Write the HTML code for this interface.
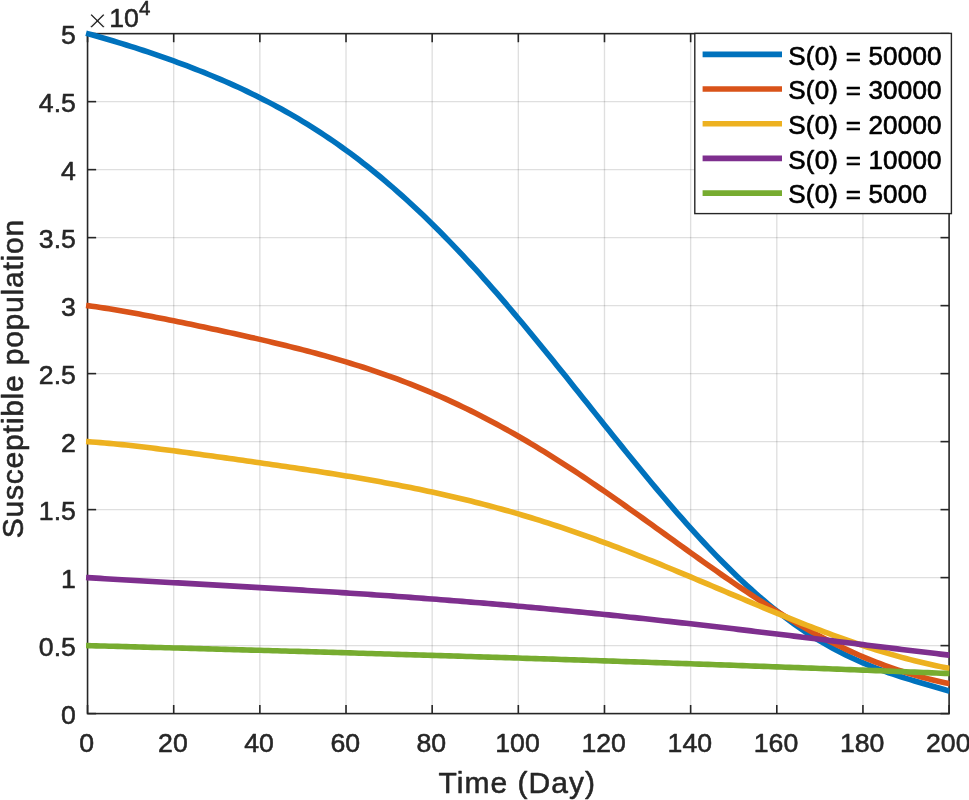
<!DOCTYPE html>
<html lang="en">
<head>
<meta charset="utf-8">
<title>Susceptible population vs Time (Day)</title>
<style>
html,body{margin:0;padding:0;background:#fff;}
body{width:969px;height:800px;overflow:hidden;}
svg{display:block;}
text{font-family:'Liberation Sans', Arial, Helvetica, sans-serif;fill:#262626;stroke:#262626;stroke-width:0.55px;stroke-linejoin:round;}
</style>
</head>
<body>
<svg width="969" height="800" viewBox="0 0 969 800">
<rect x="0" y="0" width="969" height="800" fill="#ffffff"/>

<g stroke="#262626" stroke-opacity="0.15" stroke-width="1.35" fill="none">
<line x1="173.70" y1="33.65" x2="173.70" y2="713.6"/>
<line x1="259.86" y1="33.65" x2="259.86" y2="713.6"/>
<line x1="346.02" y1="33.65" x2="346.02" y2="713.6"/>
<line x1="432.17" y1="33.65" x2="432.17" y2="713.6"/>
<line x1="518.32" y1="33.65" x2="518.32" y2="713.6"/>
<line x1="604.48" y1="33.65" x2="604.48" y2="713.6"/>
<line x1="690.63" y1="33.65" x2="690.63" y2="713.6"/>
<line x1="776.79" y1="33.65" x2="776.79" y2="713.6"/>
<line x1="862.94" y1="33.65" x2="862.94" y2="713.6"/>
<line x1="87.55" y1="645.61" x2="949.1" y2="645.61"/>
<line x1="87.55" y1="577.61" x2="949.1" y2="577.61"/>
<line x1="87.55" y1="509.62" x2="949.1" y2="509.62"/>
<line x1="87.55" y1="441.62" x2="949.1" y2="441.62"/>
<line x1="87.55" y1="373.62" x2="949.1" y2="373.62"/>
<line x1="87.55" y1="305.63" x2="949.1" y2="305.63"/>
<line x1="87.55" y1="237.63" x2="949.1" y2="237.63"/>
<line x1="87.55" y1="169.64" x2="949.1" y2="169.64"/>
<line x1="87.55" y1="101.64" x2="949.1" y2="101.64"/>
</g>
<g stroke="#262626" stroke-width="1.6" fill="none" stroke-linecap="butt">
<rect x="87.55" y="33.65" width="861.55" height="679.95"/>
<line x1="87.55" y1="713.6" x2="87.55" y2="705.0"/>
<line x1="87.55" y1="33.65" x2="87.55" y2="42.25"/>
<line x1="173.70" y1="713.6" x2="173.70" y2="705.0"/>
<line x1="173.70" y1="33.65" x2="173.70" y2="42.25"/>
<line x1="259.86" y1="713.6" x2="259.86" y2="705.0"/>
<line x1="259.86" y1="33.65" x2="259.86" y2="42.25"/>
<line x1="346.02" y1="713.6" x2="346.02" y2="705.0"/>
<line x1="346.02" y1="33.65" x2="346.02" y2="42.25"/>
<line x1="432.17" y1="713.6" x2="432.17" y2="705.0"/>
<line x1="432.17" y1="33.65" x2="432.17" y2="42.25"/>
<line x1="518.32" y1="713.6" x2="518.32" y2="705.0"/>
<line x1="518.32" y1="33.65" x2="518.32" y2="42.25"/>
<line x1="604.48" y1="713.6" x2="604.48" y2="705.0"/>
<line x1="604.48" y1="33.65" x2="604.48" y2="42.25"/>
<line x1="690.63" y1="713.6" x2="690.63" y2="705.0"/>
<line x1="690.63" y1="33.65" x2="690.63" y2="42.25"/>
<line x1="776.79" y1="713.6" x2="776.79" y2="705.0"/>
<line x1="776.79" y1="33.65" x2="776.79" y2="42.25"/>
<line x1="862.94" y1="713.6" x2="862.94" y2="705.0"/>
<line x1="862.94" y1="33.65" x2="862.94" y2="42.25"/>
<line x1="949.10" y1="713.6" x2="949.10" y2="705.0"/>
<line x1="949.10" y1="33.65" x2="949.10" y2="42.25"/>
<line x1="87.55" y1="713.60" x2="96.14999999999999" y2="713.60"/>
<line x1="949.1" y1="713.60" x2="940.5" y2="713.60"/>
<line x1="87.55" y1="645.61" x2="96.14999999999999" y2="645.61"/>
<line x1="949.1" y1="645.61" x2="940.5" y2="645.61"/>
<line x1="87.55" y1="577.61" x2="96.14999999999999" y2="577.61"/>
<line x1="949.1" y1="577.61" x2="940.5" y2="577.61"/>
<line x1="87.55" y1="509.62" x2="96.14999999999999" y2="509.62"/>
<line x1="949.1" y1="509.62" x2="940.5" y2="509.62"/>
<line x1="87.55" y1="441.62" x2="96.14999999999999" y2="441.62"/>
<line x1="949.1" y1="441.62" x2="940.5" y2="441.62"/>
<line x1="87.55" y1="373.62" x2="96.14999999999999" y2="373.62"/>
<line x1="949.1" y1="373.62" x2="940.5" y2="373.62"/>
<line x1="87.55" y1="305.63" x2="96.14999999999999" y2="305.63"/>
<line x1="949.1" y1="305.63" x2="940.5" y2="305.63"/>
<line x1="87.55" y1="237.63" x2="96.14999999999999" y2="237.63"/>
<line x1="949.1" y1="237.63" x2="940.5" y2="237.63"/>
<line x1="87.55" y1="169.64" x2="96.14999999999999" y2="169.64"/>
<line x1="949.1" y1="169.64" x2="940.5" y2="169.64"/>
<line x1="87.55" y1="101.64" x2="96.14999999999999" y2="101.64"/>
<line x1="949.1" y1="101.64" x2="940.5" y2="101.64"/>
<line x1="87.55" y1="33.65" x2="96.14999999999999" y2="33.65"/>
<line x1="949.1" y1="33.65" x2="940.5" y2="33.65"/>
</g>
<clipPath id="clip"><rect x="84.55" y="29.65" width="864.95" height="687.95"/></clipPath>
<g fill="none" stroke-width="5.6" stroke-linejoin="round" stroke-linecap="butt" clip-path="url(#clip)">
<polyline stroke="#0072BD" points="86.04,33.25 87.55,33.65 91.86,34.82 96.17,36.02 100.47,37.23 104.78,38.47 109.09,39.73 113.40,41.01 117.70,42.31 122.01,43.62 126.32,44.96 130.63,46.32 134.94,47.69 139.24,49.09 143.55,50.50 147.86,51.93 152.17,53.38 156.47,54.85 160.78,56.34 165.09,57.85 169.40,59.38 173.70,60.94 178.01,62.51 182.32,64.11 186.63,65.73 190.94,67.38 195.24,69.05 199.55,70.75 203.86,72.47 208.17,74.22 212.47,76.00 216.78,77.81 221.09,79.65 225.40,81.52 229.71,83.42 234.01,85.35 238.32,87.32 242.63,89.32 246.94,91.36 251.24,93.43 255.55,95.54 259.86,97.70 264.17,99.89 268.48,102.12 272.78,104.39 277.09,106.70 281.40,109.06 285.71,111.47 290.01,113.91 294.32,116.41 298.63,118.95 302.94,121.54 307.25,124.17 311.55,126.86 315.86,129.60 320.17,132.38 324.48,135.22 328.78,138.11 333.09,141.05 337.40,144.05 341.71,147.10 346.02,150.20 350.32,153.36 354.63,156.57 358.94,159.84 363.25,163.16 367.55,166.54 371.86,169.98 376.17,173.47 380.48,177.02 384.78,180.62 389.09,184.28 393.40,188.00 397.71,191.78 402.02,195.61 406.32,199.49 410.63,203.44 414.94,207.43 419.25,211.49 423.55,215.60 427.86,219.76 432.17,223.98 436.48,228.25 440.79,232.57 445.09,236.94 449.40,241.37 453.71,245.85 458.02,250.38 462.32,254.95 466.63,259.58 470.94,264.25 475.25,268.97 479.56,273.73 483.86,278.54 488.17,283.39 492.48,288.28 496.79,293.21 501.09,298.18 505.40,303.19 509.71,308.24 514.02,313.32 518.32,318.43 522.63,323.57 526.94,328.75 531.25,333.95 535.56,339.18 539.86,344.43 544.17,349.71 548.48,355.00 552.79,360.32 557.09,365.66 561.40,371.00 565.71,376.37 570.02,381.74 574.33,387.13 578.63,392.52 582.94,397.92 587.25,403.32 591.56,408.72 595.86,414.12 600.17,419.52 604.48,424.91 608.79,430.29 613.10,435.66 617.40,441.03 621.71,446.37 626.02,451.70 630.33,457.02 634.63,462.31 638.94,467.57 643.25,472.82 647.56,478.03 651.87,483.21 656.17,488.36 660.48,493.48 664.79,498.56 669.10,503.59 673.40,508.59 677.71,513.55 682.02,518.45 686.33,523.31 690.63,528.12 694.94,532.88 699.25,537.59 703.56,542.23 707.87,546.82 712.17,551.35 716.48,555.82 720.79,560.23 725.10,564.56 729.40,568.84 733.71,573.04 738.02,577.17 742.33,581.23 746.64,585.22 750.94,589.14 755.25,592.98 759.56,596.74 763.87,600.42 768.17,604.03 772.48,607.55 776.79,611.00 781.10,614.36 785.41,617.64 789.71,620.84 794.02,623.96 798.33,626.99 802.64,629.94 806.94,632.81 811.25,635.60 815.56,638.30 819.87,640.92 824.18,643.46 828.48,645.92 832.79,648.30 837.10,650.61 841.41,652.83 845.71,654.98 850.02,657.06 854.33,659.06 858.64,660.99 862.94,662.85 867.25,664.65 871.56,666.39 875.87,668.06 880.18,669.68 884.48,671.24 888.79,672.75 893.10,674.21 897.41,675.63 901.71,677.02 906.02,678.36 910.33,679.68 914.64,680.97 918.95,682.24 923.25,683.50 927.56,684.74 931.87,685.99 936.18,687.23 940.48,688.49 944.79,689.76 949.10,691.06 949.96,691.32"/>
<polyline stroke="#D95319" points="86.04,305.43 87.55,305.63 91.86,306.21 96.17,306.83 100.47,307.47 104.78,308.13 109.09,308.81 113.40,309.52 117.70,310.24 122.01,310.98 126.32,311.74 130.63,312.51 134.94,313.30 139.24,314.10 143.55,314.91 147.86,315.73 152.17,316.56 156.47,317.40 160.78,318.25 165.09,319.10 169.40,319.96 173.70,320.83 178.01,321.70 182.32,322.58 186.63,323.47 190.94,324.36 195.24,325.26 199.55,326.16 203.86,327.07 208.17,327.98 212.47,328.89 216.78,329.82 221.09,330.74 225.40,331.68 229.71,332.62 234.01,333.56 238.32,334.51 242.63,335.47 246.94,336.44 251.24,337.41 255.55,338.39 259.86,339.38 264.17,340.38 268.48,341.39 272.78,342.41 277.09,343.44 281.40,344.48 285.71,345.54 290.01,346.60 294.32,347.68 298.63,348.78 302.94,349.88 307.25,351.01 311.55,352.15 315.86,353.30 320.17,354.47 324.48,355.66 328.78,356.87 333.09,358.10 337.40,359.35 341.71,360.61 346.02,361.90 350.32,363.21 354.63,364.55 358.94,365.90 363.25,367.28 367.55,368.69 371.86,370.11 376.17,371.57 380.48,373.05 384.78,374.55 389.09,376.09 393.40,377.65 397.71,379.24 402.02,380.85 406.32,382.50 410.63,384.17 414.94,385.88 419.25,387.61 423.55,389.38 427.86,391.17 432.17,393.00 436.48,394.86 440.79,396.75 445.09,398.67 449.40,400.62 453.71,402.61 458.02,404.63 462.32,406.68 466.63,408.76 470.94,410.88 475.25,413.02 479.56,415.20 483.86,417.42 488.17,419.66 492.48,421.94 496.79,424.25 501.09,426.59 505.40,428.96 509.71,431.37 514.02,433.80 518.32,436.27 522.63,438.77 526.94,441.29 531.25,443.85 535.56,446.44 539.86,449.05 544.17,451.69 548.48,454.36 552.79,457.06 557.09,459.79 561.40,462.54 565.71,465.31 570.02,468.11 574.33,470.94 578.63,473.78 582.94,476.65 587.25,479.54 591.56,482.45 595.86,485.39 600.17,488.34 604.48,491.30 608.79,494.29 613.10,497.29 617.40,500.30 621.71,503.33 626.02,506.37 630.33,509.42 634.63,512.49 638.94,515.56 643.25,518.64 647.56,521.73 651.87,524.82 656.17,527.92 660.48,531.02 664.79,534.13 669.10,537.23 673.40,540.34 677.71,543.44 682.02,546.54 686.33,549.64 690.63,552.73 694.94,555.81 699.25,558.88 703.56,561.95 707.87,565.00 712.17,568.04 716.48,571.07 720.79,574.08 725.10,577.08 729.40,580.06 733.71,583.02 738.02,585.96 742.33,588.87 746.64,591.77 750.94,594.64 755.25,597.48 759.56,600.29 763.87,603.08 768.17,605.84 772.48,608.57 776.79,611.26 781.10,613.92 785.41,616.55 789.71,619.14 794.02,621.70 798.33,624.22 802.64,626.69 806.94,629.13 811.25,631.53 815.56,633.89 819.87,636.20 824.18,638.47 828.48,640.69 832.79,642.87 837.10,645.01 841.41,647.10 845.71,649.14 850.02,651.13 854.33,653.07 858.64,654.97 862.94,656.82 867.25,658.61 871.56,660.36 875.87,662.06 880.18,663.71 884.48,665.31 888.79,666.86 893.10,668.36 897.41,669.81 901.71,671.21 906.02,672.56 910.33,673.86 914.64,675.12 918.95,676.33 923.25,677.50 927.56,678.62 931.87,679.69 936.18,680.72 940.48,681.72 944.79,682.67 949.10,683.58 949.96,683.76"/>
<polyline stroke="#EDB120" points="86.04,441.52 87.55,441.62 91.86,441.92 96.17,442.24 100.47,442.59 104.78,442.96 109.09,443.35 113.40,443.76 117.70,444.19 122.01,444.63 126.32,445.09 130.63,445.56 134.94,446.04 139.24,446.54 143.55,447.04 147.86,447.56 152.17,448.09 156.47,448.62 160.78,449.17 165.09,449.72 169.40,450.27 173.70,450.84 178.01,451.40 182.32,451.98 186.63,452.55 190.94,453.13 195.24,453.72 199.55,454.31 203.86,454.90 208.17,455.49 212.47,456.09 216.78,456.68 221.09,457.29 225.40,457.89 229.71,458.49 234.01,459.10 238.32,459.71 242.63,460.32 246.94,460.93 251.24,461.54 255.55,462.16 259.86,462.78 264.17,463.40 268.48,464.02 272.78,464.65 277.09,465.28 281.40,465.91 285.71,466.54 290.01,467.18 294.32,467.82 298.63,468.46 302.94,469.11 307.25,469.77 311.55,470.42 315.86,471.09 320.17,471.75 324.48,472.43 328.78,473.11 333.09,473.79 337.40,474.48 341.71,475.18 346.02,475.89 350.32,476.60 354.63,477.33 358.94,478.06 363.25,478.79 367.55,479.54 371.86,480.30 376.17,481.07 380.48,481.84 384.78,482.63 389.09,483.43 393.40,484.24 397.71,485.06 402.02,485.89 406.32,486.74 410.63,487.60 414.94,488.47 419.25,489.35 423.55,490.25 427.86,491.16 432.17,492.09 436.48,493.03 440.79,493.98 445.09,494.95 449.40,495.93 453.71,496.93 458.02,497.95 462.32,498.98 466.63,500.03 470.94,501.09 475.25,502.17 479.56,503.27 483.86,504.38 488.17,505.52 492.48,506.66 496.79,507.83 501.09,509.01 505.40,510.21 509.71,511.43 514.02,512.66 518.32,513.92 522.63,515.19 526.94,516.48 531.25,517.78 535.56,519.10 539.86,520.45 544.17,521.80 548.48,523.18 552.79,524.57 557.09,525.98 561.40,527.41 565.71,528.86 570.02,530.32 574.33,531.80 578.63,533.29 582.94,534.80 587.25,536.33 591.56,537.87 595.86,539.43 600.17,541.01 604.48,542.60 608.79,544.20 613.10,545.82 617.40,547.45 621.71,549.10 626.02,550.76 630.33,552.43 634.63,554.11 638.94,555.81 643.25,557.52 647.56,559.24 651.87,560.97 656.17,562.71 660.48,564.46 664.79,566.22 669.10,567.99 673.40,569.76 677.71,571.55 682.02,573.34 686.33,575.13 690.63,576.93 694.94,578.74 699.25,580.55 703.56,582.37 707.87,584.19 712.17,586.01 716.48,587.83 720.79,589.66 725.10,591.48 729.40,593.31 733.71,595.13 738.02,596.95 742.33,598.77 746.64,600.59 750.94,602.40 755.25,604.21 759.56,606.01 763.87,607.81 768.17,609.60 772.48,611.38 776.79,613.15 781.10,614.92 785.41,616.67 789.71,618.41 794.02,620.14 798.33,621.86 802.64,623.56 806.94,625.26 811.25,626.93 815.56,628.59 819.87,630.23 824.18,631.86 828.48,633.47 832.79,635.06 837.10,636.63 841.41,638.18 845.71,639.71 850.02,641.21 854.33,642.70 858.64,644.16 862.94,645.59 867.25,647.00 871.56,648.39 875.87,649.75 880.18,651.08 884.48,652.39 888.79,653.67 893.10,654.92 897.41,656.14 901.71,657.33 906.02,658.49 910.33,659.62 914.64,660.72 918.95,661.78 923.25,662.82 927.56,663.82 931.87,664.78 936.18,665.72 940.48,666.62 944.79,667.48 949.10,668.32 949.96,668.48"/>
<polyline stroke="#7E2F8E" points="86.04,577.52 87.55,577.61 91.86,577.88 96.17,578.14 100.47,578.41 104.78,578.67 109.09,578.93 113.40,579.19 117.70,579.44 122.01,579.70 126.32,579.95 130.63,580.21 134.94,580.46 139.24,580.71 143.55,580.96 147.86,581.20 152.17,581.45 156.47,581.70 160.78,581.94 165.09,582.19 169.40,582.43 173.70,582.68 178.01,582.92 182.32,583.16 186.63,583.41 190.94,583.65 195.24,583.89 199.55,584.14 203.86,584.38 208.17,584.62 212.47,584.87 216.78,585.11 221.09,585.36 225.40,585.60 229.71,585.84 234.01,586.09 238.32,586.34 242.63,586.58 246.94,586.83 251.24,587.08 255.55,587.33 259.86,587.58 264.17,587.83 268.48,588.09 272.78,588.34 277.09,588.60 281.40,588.85 285.71,589.11 290.01,589.37 294.32,589.63 298.63,589.89 302.94,590.16 307.25,590.42 311.55,590.69 315.86,590.96 320.17,591.23 324.48,591.50 328.78,591.77 333.09,592.05 337.40,592.33 341.71,592.61 346.02,592.89 350.32,593.17 354.63,593.46 358.94,593.74 363.25,594.04 367.55,594.33 371.86,594.62 376.17,594.92 380.48,595.22 384.78,595.52 389.09,595.82 393.40,596.13 397.71,596.44 402.02,596.75 406.32,597.06 410.63,597.38 414.94,597.70 419.25,598.02 423.55,598.34 427.86,598.67 432.17,599.00 436.48,599.33 440.79,599.67 445.09,600.00 449.40,600.34 453.71,600.69 458.02,601.03 462.32,601.38 466.63,601.73 470.94,602.09 475.25,602.44 479.56,602.80 483.86,603.16 488.17,603.53 492.48,603.90 496.79,604.27 501.09,604.64 505.40,605.02 509.71,605.40 514.02,605.78 518.32,606.17 522.63,606.55 526.94,606.94 531.25,607.34 535.56,607.74 539.86,608.13 544.17,608.54 548.48,608.94 552.79,609.35 557.09,609.76 561.40,610.18 565.71,610.59 570.02,611.01 574.33,611.43 578.63,611.86 582.94,612.29 587.25,612.72 591.56,613.15 595.86,613.59 600.17,614.03 604.48,614.47 608.79,614.91 613.10,615.36 617.40,615.81 621.71,616.26 626.02,616.72 630.33,617.17 634.63,617.63 638.94,618.10 643.25,618.56 647.56,619.03 651.87,619.50 656.17,619.97 660.48,620.44 664.79,620.92 669.10,621.40 673.40,621.88 677.71,622.37 682.02,622.85 686.33,623.34 690.63,623.83 694.94,624.32 699.25,624.82 703.56,625.31 707.87,625.81 712.17,626.31 716.48,626.81 720.79,627.32 725.10,627.82 729.40,628.33 733.71,628.84 738.02,629.35 742.33,629.87 746.64,630.38 750.94,630.90 755.25,631.41 759.56,631.93 763.87,632.45 768.17,632.97 772.48,633.49 776.79,634.02 781.10,634.54 785.41,635.07 789.71,635.59 794.02,636.12 798.33,636.65 802.64,637.18 806.94,637.71 811.25,638.24 815.56,638.77 819.87,639.30 824.18,639.83 828.48,640.37 832.79,640.90 837.10,641.43 841.41,641.97 845.71,642.50 850.02,643.03 854.33,643.57 858.64,644.10 862.94,644.63 867.25,645.17 871.56,645.70 875.87,646.23 880.18,646.76 884.48,647.29 888.79,647.82 893.10,648.35 897.41,648.88 901.71,649.41 906.02,649.93 910.33,650.46 914.64,650.98 918.95,651.50 923.25,652.03 927.56,652.55 931.87,653.06 936.18,653.58 940.48,654.10 944.79,654.61 949.10,655.12 949.96,655.22"/>
<polyline stroke="#77AC30" points="86.04,645.56 87.55,645.61 91.86,645.72 96.17,645.83 100.47,645.95 104.78,646.06 109.09,646.18 113.40,646.29 117.70,646.41 122.01,646.53 126.32,646.64 130.63,646.76 134.94,646.87 139.24,646.99 143.55,647.11 147.86,647.22 152.17,647.34 156.47,647.46 160.78,647.57 165.09,647.69 169.40,647.81 173.70,647.93 178.01,648.05 182.32,648.16 186.63,648.28 190.94,648.40 195.24,648.52 199.55,648.64 203.86,648.76 208.17,648.88 212.47,648.99 216.78,649.11 221.09,649.23 225.40,649.35 229.71,649.47 234.01,649.59 238.32,649.71 242.63,649.84 246.94,649.96 251.24,650.08 255.55,650.20 259.86,650.32 264.17,650.44 268.48,650.56 272.78,650.69 277.09,650.81 281.40,650.93 285.71,651.05 290.01,651.18 294.32,651.30 298.63,651.42 302.94,651.55 307.25,651.67 311.55,651.80 315.86,651.92 320.17,652.04 324.48,652.17 328.78,652.29 333.09,652.42 337.40,652.54 341.71,652.67 346.02,652.80 350.32,652.92 354.63,653.05 358.94,653.18 363.25,653.30 367.55,653.43 371.86,653.56 376.17,653.69 380.48,653.81 384.78,653.94 389.09,654.07 393.40,654.20 397.71,654.33 402.02,654.46 406.32,654.59 410.63,654.72 414.94,654.85 419.25,654.98 423.55,655.11 427.86,655.24 432.17,655.37 436.48,655.50 440.79,655.63 445.09,655.76 449.40,655.90 453.71,656.03 458.02,656.16 462.32,656.29 466.63,656.43 470.94,656.56 475.25,656.70 479.56,656.83 483.86,656.96 488.17,657.10 492.48,657.23 496.79,657.37 501.09,657.51 505.40,657.64 509.71,657.78 514.02,657.91 518.32,658.05 522.63,658.19 526.94,658.33 531.25,658.46 535.56,658.60 539.86,658.74 544.17,658.88 548.48,659.02 552.79,659.16 557.09,659.30 561.40,659.44 565.71,659.58 570.02,659.72 574.33,659.86 578.63,660.00 582.94,660.14 587.25,660.28 591.56,660.43 595.86,660.57 600.17,660.71 604.48,660.85 608.79,661.00 613.10,661.14 617.40,661.29 621.71,661.43 626.02,661.58 630.33,661.72 634.63,661.87 638.94,662.01 643.25,662.16 647.56,662.31 651.87,662.45 656.17,662.60 660.48,662.75 664.79,662.90 669.10,663.04 673.40,663.19 677.71,663.34 682.02,663.49 686.33,663.64 690.63,663.79 694.94,663.94 699.25,664.09 703.56,664.24 707.87,664.40 712.17,664.55 716.48,664.70 720.79,664.85 725.10,665.01 729.40,665.16 733.71,665.31 738.02,665.47 742.33,665.62 746.64,665.78 750.94,665.93 755.25,666.09 759.56,666.25 763.87,666.40 768.17,666.56 772.48,666.72 776.79,666.88 781.10,667.03 785.41,667.19 789.71,667.35 794.02,667.51 798.33,667.67 802.64,667.83 806.94,667.99 811.25,668.15 815.56,668.31 819.87,668.48 824.18,668.64 828.48,668.80 832.79,668.96 837.10,669.13 841.41,669.29 845.71,669.46 850.02,669.62 854.33,669.79 858.64,669.95 862.94,670.12 867.25,670.29 871.56,670.45 875.87,670.62 880.18,670.79 884.48,670.96 888.79,671.13 893.10,671.29 897.41,671.46 901.71,671.63 906.02,671.80 910.33,671.98 914.64,672.15 918.95,672.32 923.25,672.49 927.56,672.66 931.87,672.84 936.18,673.01 940.48,673.19 944.79,673.36 949.10,673.53 949.96,673.57"/>
</g>
<g font-size="26.67">
<text x="86.75" y="751.7" text-anchor="middle">0</text>
<text x="172.90" y="751.7" text-anchor="middle">20</text>
<text x="259.06" y="751.7" text-anchor="middle">40</text>
<text x="345.22" y="751.7" text-anchor="middle">60</text>
<text x="431.37" y="751.7" text-anchor="middle">80</text>
<text x="517.52" y="751.7" text-anchor="middle">100</text>
<text x="603.68" y="751.7" text-anchor="middle">120</text>
<text x="689.84" y="751.7" text-anchor="middle">140</text>
<text x="775.99" y="751.7" text-anchor="middle">160</text>
<text x="862.14" y="751.7" text-anchor="middle">180</text>
<text x="948.30" y="751.7" text-anchor="middle">200</text>
<text x="75.9" y="723.70" text-anchor="end">0</text>
<text x="75.9" y="655.71" text-anchor="end">0.5</text>
<text x="75.9" y="587.71" text-anchor="end">1</text>
<text x="75.9" y="519.72" text-anchor="end">1.5</text>
<text x="75.9" y="451.72" text-anchor="end">2</text>
<text x="75.9" y="383.73" text-anchor="end">2.5</text>
<text x="75.9" y="315.73" text-anchor="end">3</text>
<text x="75.9" y="247.73" text-anchor="end">3.5</text>
<text x="75.9" y="179.74" text-anchor="end">4</text>
<text x="75.9" y="111.74" text-anchor="end">4.5</text>
<text x="75.9" y="43.75" text-anchor="end">5</text>
</g>
<text x="87.4" y="32.3" font-size="34" style="stroke:#ffffff;stroke-width:0.9px">×</text>
<text x="109.2" y="27.3" font-size="26.67">10</text>
<text x="139.0" y="15.3" font-size="20.5">4</text>
<text x="516.8" y="793.3" font-size="30.0" text-anchor="middle" textLength="156.5" lengthAdjust="spacing">Time (Day)</text>
<text transform="translate(22.5,379) rotate(-90)" font-size="30.0" text-anchor="middle" textLength="318.5" lengthAdjust="spacing">Susceptible population</text>
<rect x="694.8" y="33.4" width="256.60" height="180.20" fill="#ffffff" stroke="#262626" stroke-width="1.4"/>
<line x1="702.6" y1="54.40" x2="782" y2="54.40" stroke="#0072BD" stroke-width="5.6"/>
<text x="788.3" y="64.80" font-size="26.0" letter-spacing="0.2" style="fill:#000;stroke:#000;stroke-width:0.65px">S(0) = 50000</text>
<line x1="702.6" y1="89.07" x2="782" y2="89.07" stroke="#D95319" stroke-width="5.6"/>
<text x="788.3" y="99.47" font-size="26.0" letter-spacing="0.2" style="fill:#000;stroke:#000;stroke-width:0.65px">S(0) = 30000</text>
<line x1="702.6" y1="123.74" x2="782" y2="123.74" stroke="#EDB120" stroke-width="5.6"/>
<text x="788.3" y="134.14" font-size="26.0" letter-spacing="0.2" style="fill:#000;stroke:#000;stroke-width:0.65px">S(0) = 20000</text>
<line x1="702.6" y1="158.41" x2="782" y2="158.41" stroke="#7E2F8E" stroke-width="5.6"/>
<text x="788.3" y="168.81" font-size="26.0" letter-spacing="0.2" style="fill:#000;stroke:#000;stroke-width:0.65px">S(0) = 10000</text>
<line x1="702.6" y1="193.08" x2="782" y2="193.08" stroke="#77AC30" stroke-width="5.6"/>
<text x="788.3" y="203.48" font-size="26.0" letter-spacing="0.2" style="fill:#000;stroke:#000;stroke-width:0.65px">S(0) = 5000</text>
</svg>
</body>
</html>
